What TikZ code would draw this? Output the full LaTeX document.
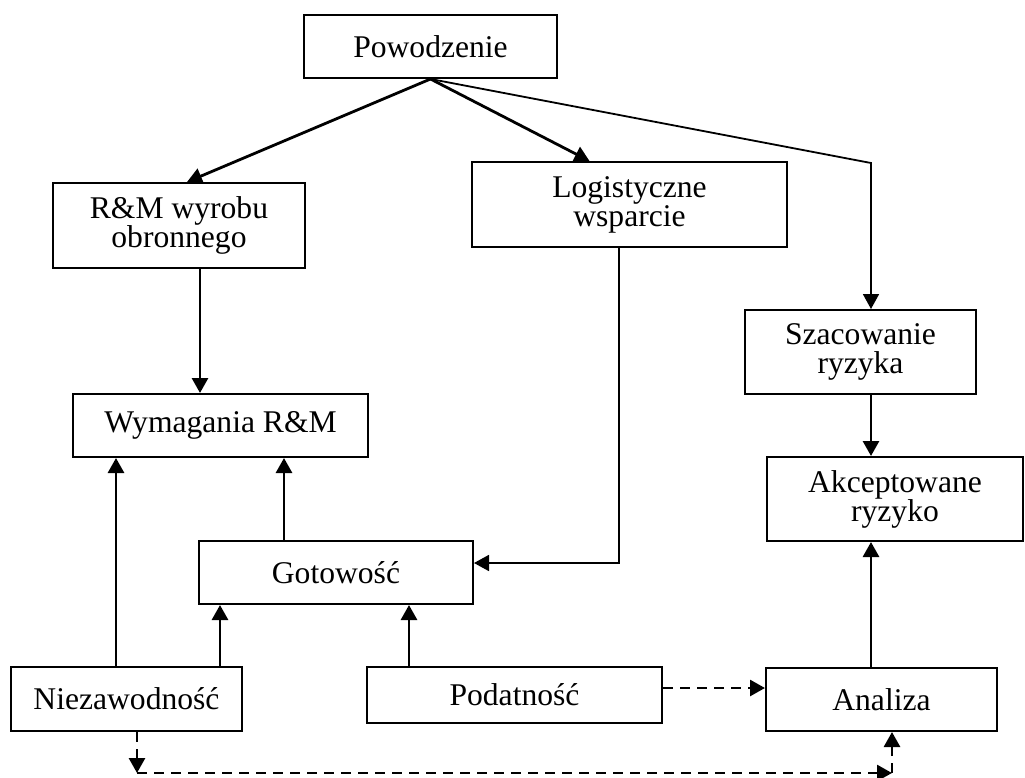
\documentclass[tikz,border=0pt]{standalone}
\usepackage{fontspec}
\setmainfont{Liberation Serif}
\usetikzlibrary{arrows.meta,calc}
\tikzset{
  box/.style={draw, line width=1pt, inner sep=0pt, align=center,
    font=\fontsize{15.8}{14.5}\selectfont},
  conn/.style={line width=1.4pt, -{Triangle[length=7.5pt,width=8pt]}},
  thinConn/.style={conn, line width=0.9pt},
  dashConn/.style={conn, dash pattern=on 5pt off 3.5pt}
}

\begin{document}
\begin{tikzpicture}[x=0.5pt, y=-0.5pt]
  \useasboundingbox (0,0) rectangle (1025,778);
  \node[box, minimum width=126.5pt, minimum height=31.5pt] (pow) at (430.5,46.5) {Powodzenie};
  \node[box, minimum width=126pt, minimum height=42.5pt] (rm) at (179,225.5) {R\&M wyrobu\\obronnego};
  \node[box, minimum width=157.5pt, minimum height=42.5pt] (log) at (629.5,204.5) {Logistyczne\\wsparcie};
  \node[box, minimum width=115.5pt, minimum height=42pt] (sza) at (860.5,352) {Szacowanie\\ryzyka};
  \node[box, minimum width=147.5pt, minimum height=31.5pt] (wym) at (220.5,425.5) {Wymagania R\&M};
  \node[box, minimum width=128pt, minimum height=42pt] (akc) at (895,499) {Akceptowane\\ryzyko};
  \node[box, minimum width=137pt, minimum height=31.5pt] (got) at (336,572.5) {Gotowość};
  \node[box, minimum width=115.5pt, minimum height=32pt] (nie) at (126.5,699) {Niezawodność};
  \node[box, minimum width=147.5pt, minimum height=28pt] (pod) at (514.5,695) {Podatność};
  \node[box, minimum width=115.5pt, minimum height=31.5pt] (ana) at (881.5,699.5) {Analiza};

  \coordinate (colA) at (116,0);
  \coordinate (colB) at (200,0);
  \coordinate (colC) at (220,0);
  \coordinate (colD) at (284,0);
  \coordinate (colE) at (409,0);
  \coordinate (colF) at (619,0);
  \coordinate (kink) at (871,163);
  \coordinate (rowL) at (0,563);
  \coordinate (rowP) at (0,688);
  \coordinate (cornA) at (137,773);
  \coordinate (cornB) at (892,773);

  \draw[conn] (pow.south) -- ($(rm.north)+(8,0)$);
  \draw[conn] (pow.south) -- ($(log.north)+(-40,0)$);
  \draw[thinConn] (pow.south) -- (kink) -- (kink |- sza.north);
  \draw[conn] (rm.south -| colB) -- (wym.north -| colB);
  \draw[conn] (nie.north -| colA) -- (wym.south -| colA);
  \draw[conn] (nie.north -| colC) -- (got.south -| colC);
  \draw[conn] (got.north -| colD) -- (wym.south -| colD);
  \draw[conn] (pod.north -| colE) -- (got.south -| colE);
  \draw[thinConn] (log.south -| colF) |- (got.east |- rowL);
  \draw[conn] (sza.south -| kink) -- (akc.north -| kink);
  \draw[conn] (ana.north -| kink) -- (akc.south -| kink);
  \draw[dashConn] (pod.east |- rowP) -- (ana.west |- rowP);
  \draw[dashConn] (nie.south -| cornA) -- (cornA);
  \draw[dashConn] (cornA) -- (cornB);
  \draw[dashConn] (cornB) -- (ana.south -| cornB);
\end{tikzpicture}
\end{document}
